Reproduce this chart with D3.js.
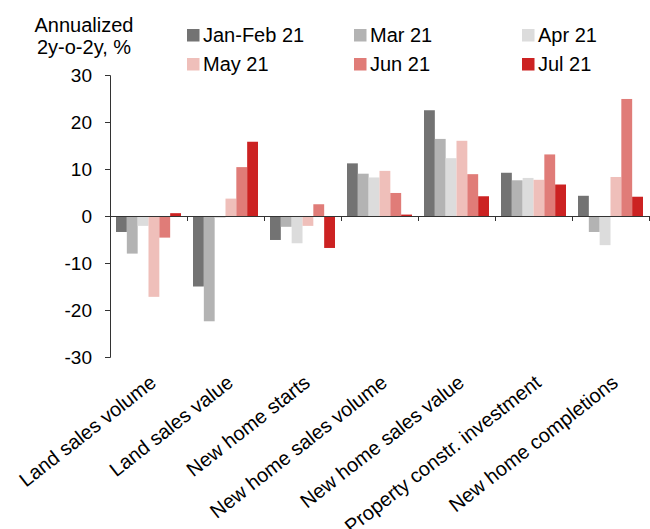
<!DOCTYPE html>
<html>
<head>
<meta charset="utf-8">
<script src="https://cdn.jsdelivr.net/npm/d3@7"></script>
<style>
  body { margin: 0; background: #fff; }
  svg { display: block; font-family: "Liberation Sans", Arial, sans-serif; }
</style>
</head>
<body>
<svg id="chart" width="650" height="529"></svg>
<script>
const categories = ["Land sales volume", "Land sales value", "New home starts", "New home sales volume", "New home sales value", "Property constr. investment", "New home completions"];
const seriesNames = ["Jan-Feb 21", "Mar 21", "Apr 21", "May 21", "Jun 21", "Jul 21"];
const seriesColors = ["#737373", "#b3b3b3", "#dcdcdc", "#efbfba", "#e07c78", "#cc2222"];
const janFeb = [-3.4, -15.0, -5.1, 11.2, 22.5, 9.2, 4.3];
const mar    = [-8.0, -22.4, -2.3, 9.0, 16.4, 7.6, -3.4];
const apr    = [-2.1, -0.4, -5.8, 8.2, 12.3, 8.1, -6.2];
const may    = [-17.2, 3.7, -2.1, 9.6, 16.0, 7.7, 8.3];
const jun    = [-4.6, 10.4, 2.5, 4.9, 8.9, 13.1, 24.9];
const jul    = [0.6, 15.8, -6.8, 0.3, 4.2, 6.7, 4.1];
const yTicks = [-30, -20, -10, 0, 10, 20, 30];
const titleLines = ["Annualized", "2y-o-2y, %"];

const seriesValues = [janFeb, mar, apr, may, jun, jul];

const svg = d3.select("#chart");
const plotLeft = 110, plotRight = 649, plotTop = 75, plotBottom = 357;

const x0 = d3.scaleBand().domain(categories).range([plotLeft, plotRight]).padding(0);
const x1 = d3.scaleBand().domain(seriesNames).range([6, x0.bandwidth() - 6]).padding(0);
const y = d3.scaleLinear().domain([-30, 30]).range([plotBottom, plotTop]);

// bars
seriesNames.forEach((s, si) => {
  svg.append("g").selectAll("rect")
    .data(categories.map((c, ci) => ({c, v: seriesValues[si][ci]})))
    .join("rect")
    .attr("x", d => x0(d.c) + x1(s))
    .attr("width", x1.bandwidth())
    .attr("y", d => y(Math.max(0, d.v)))
    .attr("height", d => Math.abs(y(d.v) - y(0)))
    .attr("fill", seriesColors[si]);
});

// y axis
const yAxis = svg.append("g")
  .attr("transform", `translate(${plotLeft},0)`)
  .call(d3.axisLeft(y).tickValues(yTicks).tickSize(5).tickSizeOuter(5).tickPadding(13).tickFormat(d => String(d)));
yAxis.selectAll("path, line").attr("stroke", "#333");
yAxis.selectAll("text").attr("font-size", 19).attr("fill", "#000").attr("font-family", "Liberation Sans, Arial, sans-serif");

// x axis (zero line with ticks at group boundaries)
const xi = d3.scaleLinear().domain([0, categories.length]).range([plotLeft, plotRight]);
const xAxis = svg.append("g")
  .attr("transform", `translate(0,${y(0)})`)
  .call(d3.axisBottom(xi).tickValues(d3.range(1, categories.length + 1)).tickSize(5).tickSizeOuter(0).tickFormat(""));
xAxis.selectAll("path, line").attr("stroke", "#333");

// category labels
svg.append("g").selectAll("text")
  .data(categories)
  .join("text")
  .attr("transform", d => `translate(${x0(d) + x0.bandwidth() / 2 + 9},385) rotate(-38)`)
  .attr("text-anchor", "end")
  .attr("font-size", 20)
  .attr("fill", "#000")
  .text(d => d);

// title
svg.append("text")
  .attr("x", 84).attr("text-anchor", "middle").attr("font-size", 20).attr("fill", "#000")
  .selectAll("tspan").data(titleLines).join("tspan")
  .attr("x", 84).attr("y", (d, i) => 32 + i * 21.5).text(d => d);

// legend
const legX = [187, 354, 522], legY = [41.5, 70.5];
const leg = svg.append("g").selectAll("g").data(seriesNames).join("g")
  .attr("transform", (d, i) => `translate(${legX[i % 3]},${legY[Math.floor(i / 3)]})`);
leg.append("rect").attr("x", 0).attr("y", -12.5).attr("width", 12.5).attr("height", 12.5)
  .attr("fill", (d, i) => seriesColors[i]);
leg.append("text").attr("x", 16).attr("y", 0).attr("font-size", 20).attr("fill", "#000").text(d => d);
</script>
</body>
</html>
